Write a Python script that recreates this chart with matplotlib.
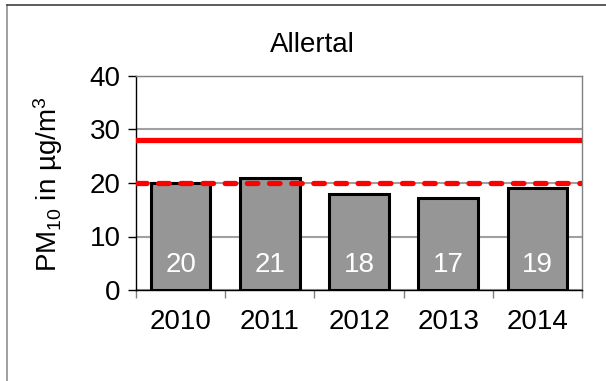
import numpy as np
import matplotlib
matplotlib.use("Agg")
import matplotlib.pyplot as plt

plt.rcParams["font.family"] = ["Liberation Sans", "DejaVu Sans"]
plt.rcParams["mathtext.fontset"] = "custom"
plt.rcParams["mathtext.rm"] = "Liberation Sans"
plt.rcParams["mathtext.it"] = "Liberation Sans:italic"

# Daten
jahre = ["2010", "2011", "2012", "2013", "2014"]
pm10 = [20.0, 21.0, 18.0, 17.2, 19.1]
bar_labels = ["20", "21", "18", "17", "19"]
grenzwert = 28
richtwert = 20
titel = "Allertal"

fs = 20
W, H = 606, 381
fig = plt.figure(figsize=(W / 100, H / 100), dpi=100)
ax = fig.add_axes([136 / W, 1 - 290 / H, (582 - 136) / W, (290 - 76) / H])

x = np.arange(len(jahre))
ax.bar(x, pm10, width=0.67, color="#969696", edgecolor="black", linewidth=2.2, zorder=2)

for xi, lab in zip(x, bar_labels):
    ax.text(xi, 4.7, lab, ha="center", va="center", color="white", fontsize=fs, zorder=4)

ax.axhline(grenzwert, color="#ff0000", linewidth=3.8, zorder=3)
ax.axhline(richtwert, color="#ff0000", linewidth=3.8, linestyle=(0, (2.0, 2.2)),
           dash_capstyle="round", zorder=3)

ax.set_xlim(-0.5, len(jahre) - 0.5)
ax.set_ylim(0, 40)
ax.set_yticks([0, 10, 20, 30, 40])
ax.grid(True, axis="y", color="#a0a0a0", linewidth=1.5, zorder=0)
ax.set_axisbelow(True)

ax.set_xticks(x)
ax.set_xticklabels(jahre, fontsize=fs)
ax.set_xticks(np.arange(-0.5, len(jahre)), minor=True)
ax.tick_params(axis="x", which="major", length=0, pad=14)
ax.tick_params(axis="x", which="minor", length=6, width=1, color="#808080", direction="out")
ax.tick_params(axis="y", length=6, width=1, color="black", labelsize=fs, pad=5)

ax.spines["left"].set_color("black")
ax.spines["bottom"].set_color("black")
ax.spines["top"].set_color("#808080")
ax.spines["right"].set_color("#808080")
for s in ax.spines.values():
    s.set_linewidth(1)

fig.text(312 / W, 1 - 52 / H, titel, ha="center", va="baseline", fontsize=fs)
fig.text(48 / W, 1 - 184 / H, r"PM$_{10}$ in µg/m$^3$", rotation=90,
         ha="center", va="center", fontsize=fs)

# Rahmen
fig.add_artist(plt.Line2D([7 / W, 7 / W], [0, 1 - 5 / H], transform=fig.transFigure,
                          color="#909090", linewidth=1.2))
fig.add_artist(plt.Line2D([7 / W, 1], [1 - 5 / H, 1 - 5 / H], transform=fig.transFigure,
                          color="#404040", linewidth=1.2))

fig.savefig("out.png", dpi=100)
